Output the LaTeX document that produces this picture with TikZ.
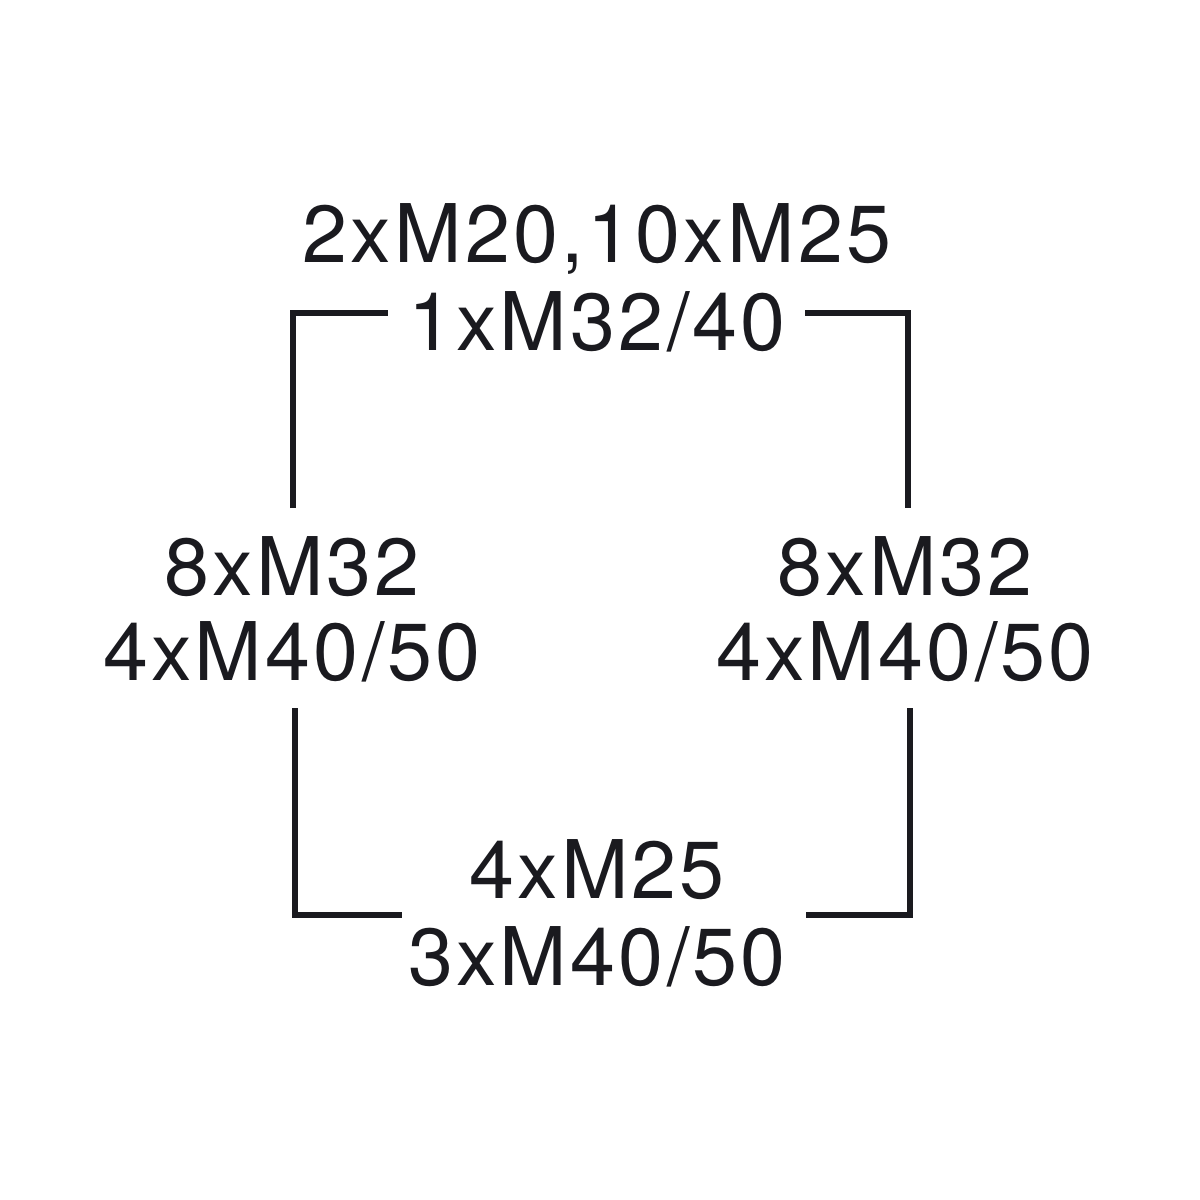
\documentclass[tikz,border=0pt]{standalone}
\usepackage{fontspec}
\setmainfont{TeX Gyre Heros}[LetterSpace=4]
\definecolor{ink}{HTML}{1A1A1F}
\begin{document}
\begin{tikzpicture}[x=0.01cm,y=-0.01cm,
  lbl/.style={anchor=base,inner sep=0pt,text=ink,font=\fontsize{23}{27}\selectfont},
  br/.style={draw=ink,line width=0.065cm,line cap=butt,line join=miter}]
\useasboundingbox (0,0) rectangle (1200,1200);
\node[lbl] (t1) at (597,262) {2xM20,10xM25};
\node[lbl] (t2) at (597,350) {1xM32/40};
\node[lbl] (l1) at (292,595) {8xM32};
\node[lbl] (l2) at (292,680) {4xM40/50};
\node[lbl] (r1) at (905,595) {8xM32};
\node[lbl] (r2) at (905,680) {4xM40/50};
\node[lbl] (b1) at (597,898) {4xM25};
\node[lbl] (b2) at (597,985) {3xM40/50};
\draw[br] (293,508) -- (293,313) -- (388,313);
\draw[br] (805,313) -- (908,313) -- (908,508);
\draw[br] (295,708) -- (295,915) -- (402,915);
\draw[br] (806,915) -- (910,915) -- (910,708);
\end{tikzpicture}
\end{document}
